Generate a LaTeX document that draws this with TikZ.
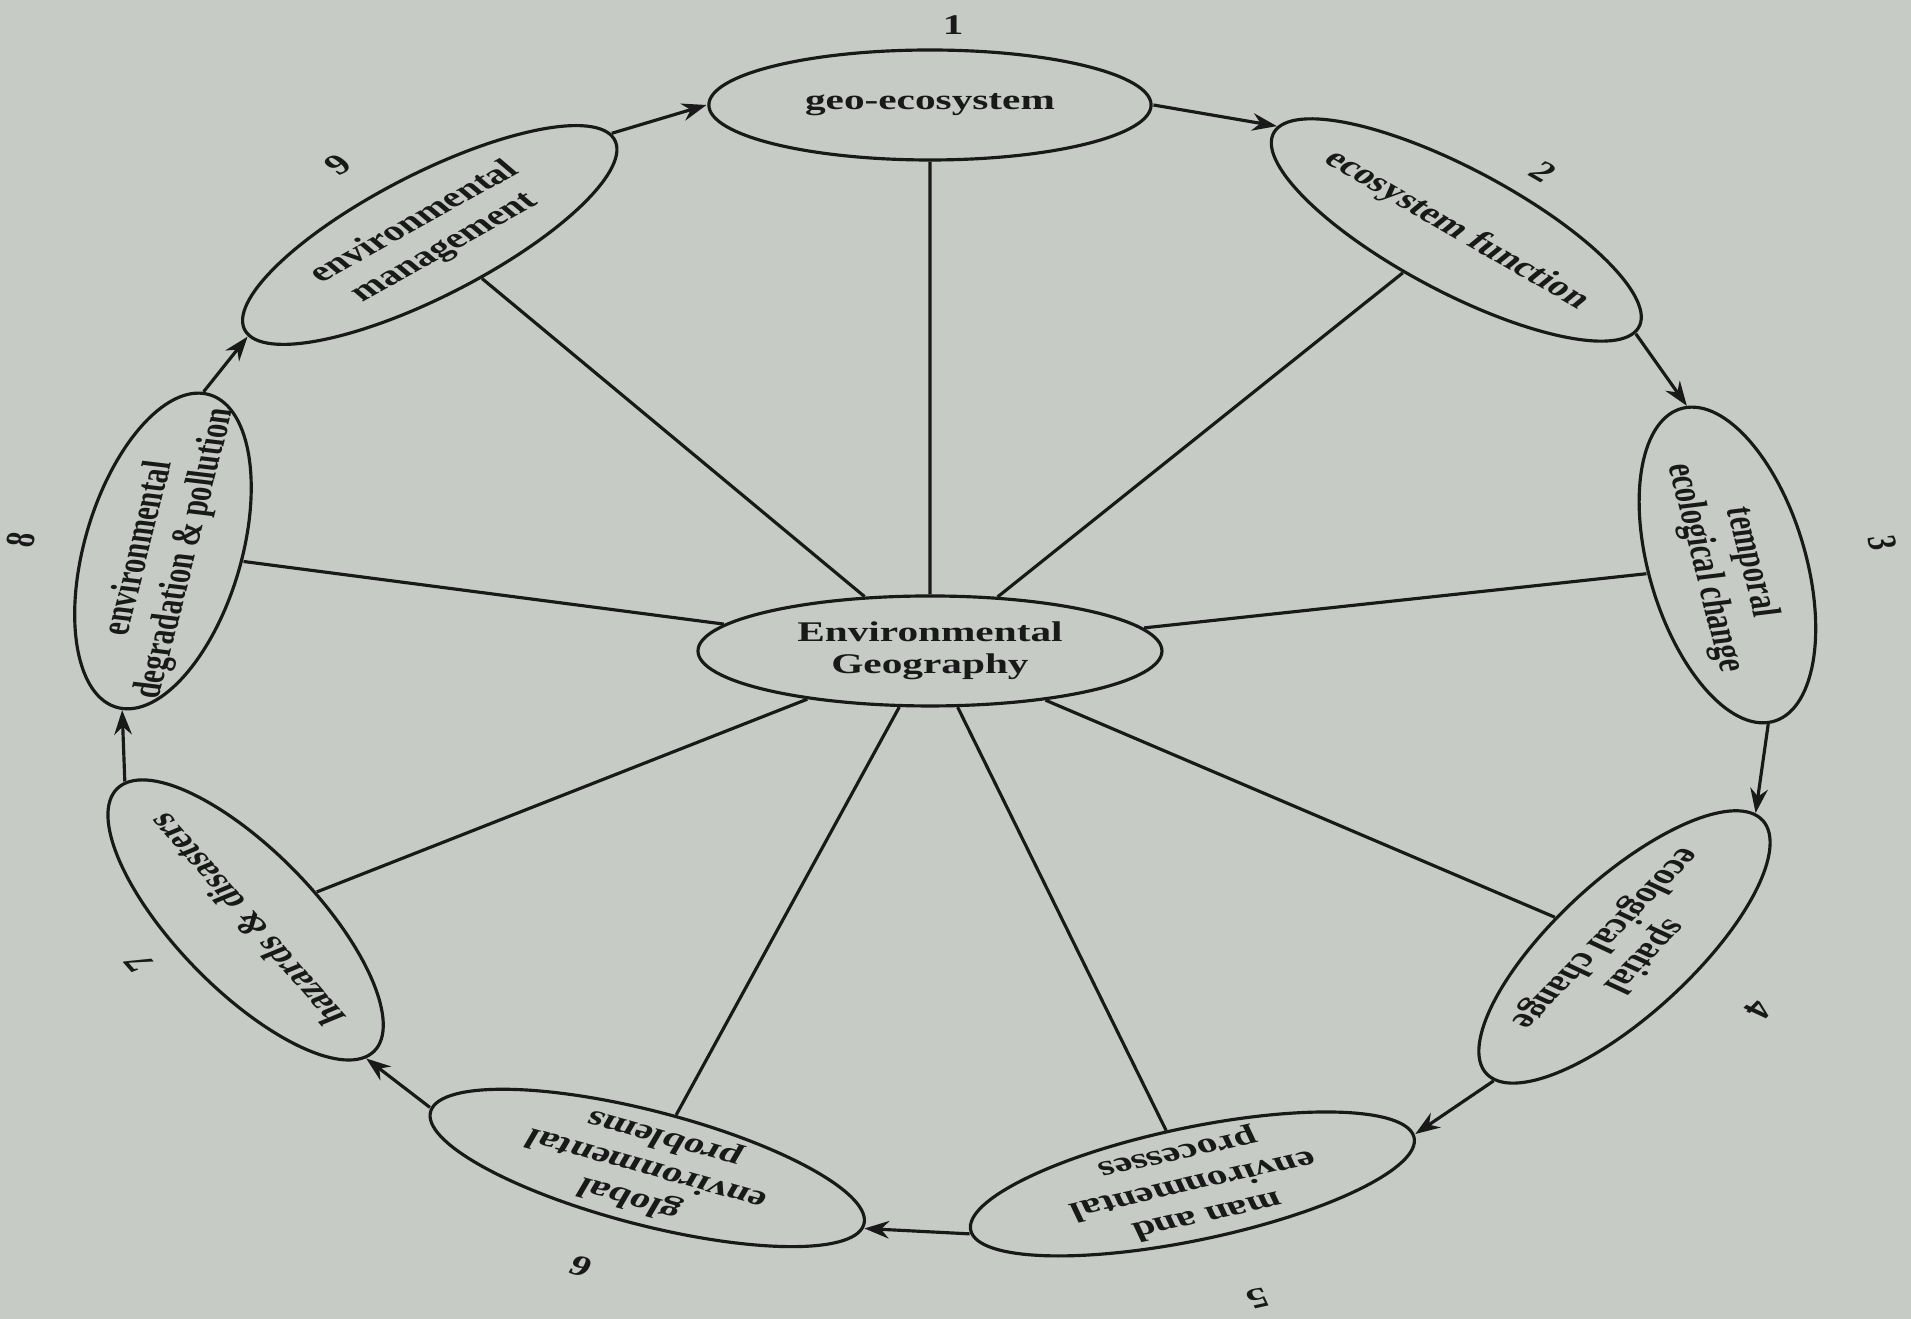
\documentclass[tikz,border=0pt]{standalone}
\usepackage{fontspec}
\setmainfont{Liberation Serif}
\usepackage{tikz}
\usetikzlibrary{shapes.geometric,arrows.meta}

\definecolor{paper}{RGB}{198,203,197}
\definecolor{ink}{RGB}{25,25,25}

\tikzset{
  topic/.style={draw=ink, ellipse, minimum width=3.2cm, minimum height=1.1cm,
    inner sep=-4mm, align=center, text=ink, line width=0.9pt},
  num/.style={text=ink, inner sep=0pt},
  spoke/.style={draw=ink, line width=0.9pt},
  flow/.style={draw=ink, line width=0.9pt, -{Stealth[length=7pt,width=5pt]}}
}

\begin{document}
\begin{tikzpicture}[xscale=1.45, transform shape,
    font=\fontsize{8.1}{9.2}\selectfont\bfseries]
  \path[fill=paper, use as bounding box] (-6.414,-6.68) rectangle (6.766,6.51);
  % centre
  \node[topic] (hub) at (0,0) {Environmental\\Geography};
  % 1
  \node[topic, minimum width=3.05cm] (geo) at (0,5.46) {geo-ecosystem};
  \node[num] (n1) at (0.16,6.26) {1};
  % 2
  \node[topic, rotate=-40] (eco) at (3.63,4.21) {ecosystem function};
  \node[num, rotate=-40] (n2) at (4.23,4.79) {2};
  % 3
  \node[topic, rotate=-80] (temp) at (5.50,0.86) {temporal\\ecological change};
  \node[num, rotate=-80] (n3) at (6.57,1.08) {3};
  % 4
  \node[topic, rotate=-124] (spat) at (4.79,-2.96) {spatial\\ecological change};
  \node[num, rotate=-124] (n4) at (5.72,-3.59) {4};
  % 5
  \node[topic, rotate=-162] (man) at (1.81,-5.33) {man and\\environmental\\processes};
  \node[num, rotate=-162] (n5) at (2.26,-6.47) {5};
  % 6
  \node[topic, rotate=158] (glob) at (-1.95,-5.17) {global\\environmental\\problems};
  \node[num, rotate=158] (n6) at (-2.41,-6.16) {6};
  % 7
  \node[topic, rotate=121] (haz) at (-4.72,-2.69) {hazards \& disasters};
  \node[num, rotate=121] (n7) at (-5.45,-3.12) {7};
  % 8
  \node[topic, rotate=80] (degr) at (-5.29,1.00) {environmental\\degradation \& pollution};
  \node[num, rotate=80] (n8) at (-6.27,1.11) {8};
  % 9
  \node[topic, rotate=39] (mgmt) at (-3.45,4.16) {environmental\\management};
  \node[num, rotate=39] (n9) at (-4.08,4.86) {9};

  % spokes
  \draw[spoke] (hub) -- (geo);
  \draw[spoke] (hub) -- (eco);
  \draw[spoke] (hub) -- (temp);
  \draw[spoke] (hub) -- (spat);
  \draw[spoke] (hub) -- (man);
  \draw[spoke] (hub) -- (glob);
  \draw[spoke] (hub) -- (haz);
  \draw[spoke] (hub) -- (degr);
  \draw[spoke] (hub) -- (mgmt);

  % cycle
  \draw[flow] (geo.east) -- (eco.west);
  \draw[flow] (eco.east) -- (temp.west);
  \draw[flow] (temp.east) -- (spat.west);
  \draw[flow] (spat.east) -- (man.west);
  \draw[flow] (man.east) -- (glob.west);
  \draw[flow] (glob.east) -- (haz.west);
  \draw[flow] (haz.east) -- (degr.west);
  \draw[flow] (degr.east) -- (mgmt.west);
  \draw[flow] (mgmt.east) -- (geo.west);
\end{tikzpicture}
\end{document}
